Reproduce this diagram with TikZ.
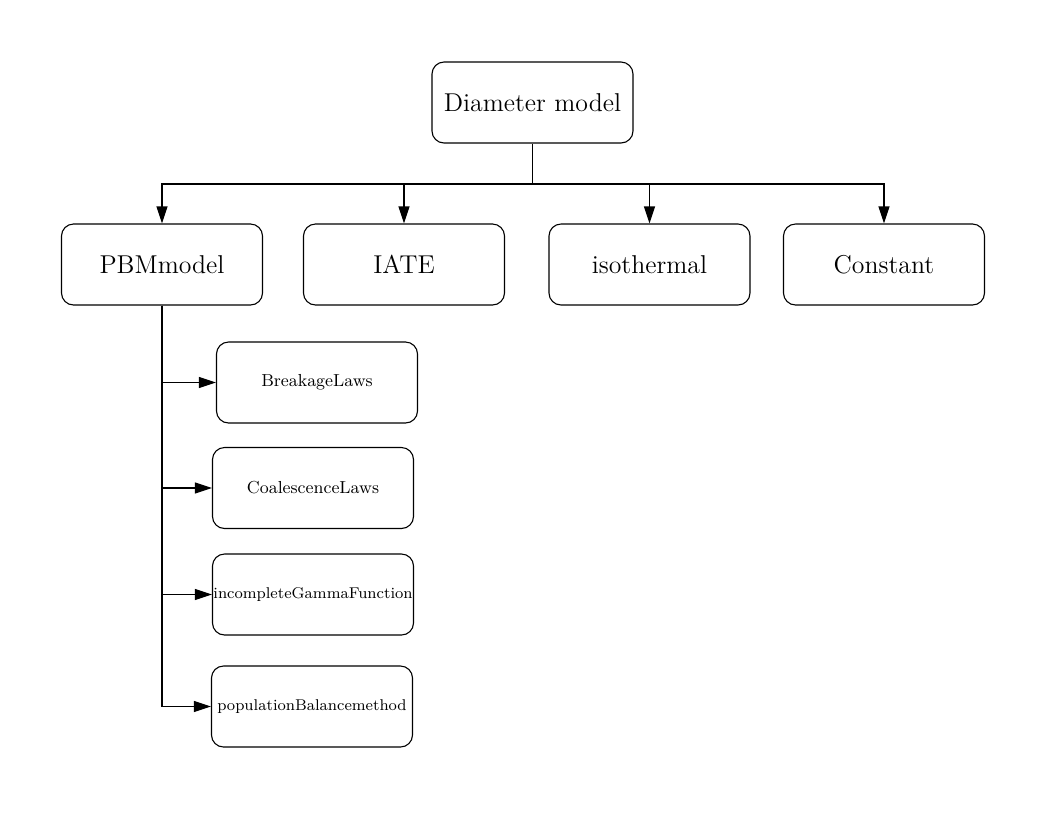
\documentclass[tikz,border=0pt]{standalone}
\usepackage{tikz}
\usetikzlibrary{arrows.meta}
\begin{document}
\begin{tikzpicture}[x=0.5pt,y=-0.5pt,
	model/.style={draw,line width=0.55pt,rounded corners=6pt,minimum width=100.5pt,minimum height=40.5pt,inner sep=0pt,font=\fontsize{12.9}{15}\selectfont},
	law/.style={model,font=\fontsize{8.7}{10}\selectfont},
	longlaw/.style={model,font=\fontsize{7.8}{10}\selectfont},
	link/.style={line width=0.55pt,-{Triangle[length=8.5pt,width=5.5pt]}}]
	\useasboundingbox (0,0) rectangle (1056,816);
	% top level
	\node[model] (diam) at (532.5,102.5) {Diameter model};
	\node[model] (pbm) at (162,264.5) {PBMmodel};
	\node[model] (iate) at (404,264.5) {IATE};
	\node[model] (iso) at (649.5,264.5) {isothermal};
	\node[model] (const) at (884,264.5) {Constant};
	% PBM sub models
	\node[law] (break) at (317,382.5) {BreakageLaws};
	\node[law] (coal) at (313,488) {CoalescenceLaws};
	\node[longlaw] (gamma) at (313,594.5) {incompleteGammaFunction};
	\node[longlaw] (pop) at (312,706.5) {populationBalancemethod};
	% connectors
	\coordinate (split) at (532.5,184);
	\draw[line width=0.55pt] (diam.south) -- (split);
	\draw[link] (split) -| (pbm.north);
	\draw[link] (split) -| (iate.north);
	\draw[link] (split) -| (iso.north);
	\draw[link] (split) -| (const.north);
	\draw[link] (pbm.south) |- (break.west);
	\draw[link] (pbm.south) |- (coal.west);
	\draw[link] (pbm.south) |- (gamma.west);
	\draw[link] (pbm.south) |- (pop.west);
\end{tikzpicture}
\end{document}
